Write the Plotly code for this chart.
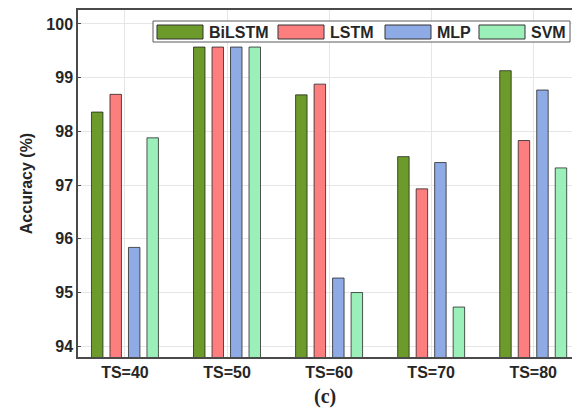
import plotly.graph_objects as go

categories = ["TS=40", "TS=50", "TS=60", "TS=70", "TS=80"]
series_names = ["BiLSTM", "LSTM", "MLP", "SVM"]
bilstm = [98.36, 99.57, 98.68, 97.53, 99.13]
lstm = [98.69, 99.57, 98.88, 96.93, 97.83]
mlp = [95.84, 99.57, 95.27, 97.42, 98.77]
svm = [97.88, 99.57, 95.00, 94.73, 97.32]
y_ticks = [94, 95, 96, 97, 98, 99, 100]

colors = ["#6c9b2b", "#fd7e7e", "#8eabe5", "#9bf0ba"]
values = [bilstm, lstm, mlp, svm]

W, H = 572, 410
ML, MR, MT, MB = 78, 0, 10, 53
PW, PH = W - ML - MR, H - MT - MB

def px_x(x):  # screen px -> paper
    return (x - ML) / PW

def px_y(y):
    return (H - MB - y) / PH

fig = go.Figure()
for name, vals, col in zip(series_names, values, colors):
    fig.add_trace(go.Bar(
        x=categories, y=vals, name=name,
        marker=dict(color=col, line=dict(color="rgba(30,30,30,0.75)", width=1)),
        showlegend=False,
    ))

font_main = "Liberation Sans, Arial, sans-serif"

fig.update_layout(
    width=W, height=H,
    margin=dict(l=ML, r=MR, t=MT, b=MB),
    paper_bgcolor="white", plot_bgcolor="white",
    barmode="group", bargap=0.275, bargroupgap=0.38,
    font=dict(family=font_main, size=16, color="#262626"),
    xaxis=dict(
        range=[-0.46, 4.38], showgrid=True, gridcolor="#e6e6e6",
        showline=True, linecolor="#4a4a4a", linewidth=1.5, mirror=True,
        ticks="", tickfont=dict(family=font_main, size=16, color="#262626", weight="bold"),
        automargin=False,
    ),
    yaxis=dict(
        range=[93.80, 100.26], tickvals=y_ticks, showgrid=True, gridcolor="#e6e6e6",
        showline=True, linecolor="#4a4a4a", linewidth=1.5, mirror=True,
        ticks="inside", ticklen=3, tickcolor="#4a4a4a",
        tickfont=dict(family=font_main, size=16, color="#262626", weight="bold"),
        title=dict(text="Accuracy (%)", standoff=10,
                   font=dict(family=font_main, size=16, color="#262626", weight="bold")),
        zeroline=False, automargin=False,
    ),
)

# Legend box (custom, wide swatches)
shapes = [dict(type="rect", xref="paper", yref="paper",
               x0=px_x(153), x1=px_x(570), y0=px_y(42), y1=px_y(21),
               line=dict(color="#5a5a5a", width=1), fillcolor="white", layer="above")]
sw_x = [157, 278, 385, 479]
sw_w = 46
annotations = []
for sx, name, col in zip(sw_x, series_names, colors):
    shapes.append(dict(type="rect", xref="paper", yref="paper",
                       x0=px_x(sx), x1=px_x(sx + sw_w), y0=px_y(39), y1=px_y(25),
                       line=dict(color="#333333", width=1), fillcolor=col, layer="above"))
    annotations.append(dict(xref="paper", yref="paper", x=px_x(sx + sw_w + 4), y=px_y(32),
                            text=f"<b>{name}</b>", showarrow=False, xanchor="left", yanchor="middle",
                            font=dict(family=font_main, size=16, color="#262626")))
annotations.append(dict(xref="paper", yref="paper", x=px_x(325), y=px_y(396),
                        text="<b>(c)</b>", showarrow=False, xanchor="center", yanchor="middle",
                        font=dict(family="Liberation Serif, Times New Roman, serif", size=20, color="#262626")))
fig.update_layout(shapes=shapes, annotations=annotations)

fig.write_html(
    "out.html",
    config={"displayModeBar": False},
    post_script="document.body.style.margin='0';document.body.style.overflow='hidden';",
)
